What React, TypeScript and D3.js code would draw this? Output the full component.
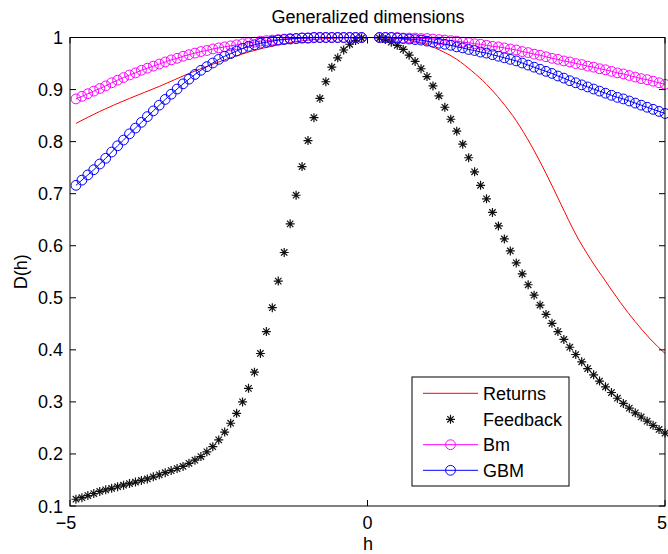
import React from 'react';
import * as d3 from 'd3';

// h grid of the marker series (gap around 0 as in the reference)
const H = [
  -4.9, -4.8, -4.7, -4.6, -4.5, -4.4, -4.3, -4.2, -4.1, -4.0,
  -3.9, -3.8, -3.7, -3.6, -3.5, -3.4, -3.3, -3.2, -3.1, -3.0,
  -2.9, -2.8, -2.7, -2.6, -2.5, -2.4, -2.3, -2.2, -2.1, -2.0,
  -1.9, -1.8, -1.7, -1.6, -1.5, -1.4, -1.3, -1.2, -1.1, -1.0,
  -0.9, -0.8, -0.7, -0.6, -0.5, -0.4, -0.3, -0.2, -0.1,
  0.2, 0.3, 0.4, 0.5, 0.6, 0.7, 0.8, 0.9, 1.0,
  1.1, 1.2, 1.3, 1.4, 1.5, 1.6, 1.7, 1.8, 1.9, 2.0,
  2.1, 2.2, 2.3, 2.4, 2.5, 2.6, 2.7, 2.8, 2.9, 3.0,
  3.1, 3.2, 3.3, 3.4, 3.5, 3.6, 3.7, 3.8, 3.9, 4.0,
  4.1, 4.2, 4.3, 4.4, 4.5, 4.6, 4.7, 4.8, 4.9, 5.0,
];

const FEEDBACK = [
  0.113, 0.116, 0.120, 0.124, 0.128, 0.131, 0.134, 0.137, 0.140, 0.143,
  0.146, 0.149, 0.152, 0.156, 0.160, 0.164, 0.168, 0.172, 0.176, 0.182,
  0.188, 0.195, 0.204, 0.214, 0.227, 0.242, 0.259, 0.278, 0.300, 0.326,
  0.357, 0.393, 0.435, 0.481, 0.532, 0.587, 0.642, 0.697, 0.752, 0.802,
  0.846, 0.883, 0.915, 0.943, 0.961, 0.976, 0.987, 0.994, 0.999,
  0.999, 0.996, 0.991, 0.985, 0.977, 0.966, 0.954, 0.940, 0.925,
  0.907, 0.888, 0.866, 0.843, 0.820, 0.795, 0.769, 0.742, 0.716, 0.690,
  0.664, 0.638, 0.613, 0.590, 0.567, 0.546, 0.525, 0.505, 0.486, 0.468,
  0.451, 0.435, 0.420, 0.405, 0.391, 0.377, 0.364, 0.352, 0.340, 0.329,
  0.318, 0.307, 0.297, 0.288, 0.279, 0.271, 0.263, 0.255, 0.247, 0.240,
];

const BM = [
  0.882, 0.887, 0.892, 0.897, 0.902, 0.907, 0.913, 0.918, 0.923, 0.928,
  0.932, 0.937, 0.941, 0.945, 0.949, 0.953, 0.957, 0.960, 0.964, 0.967,
  0.970, 0.973, 0.975, 0.978, 0.980, 0.982, 0.984, 0.986, 0.988, 0.990,
  0.991, 0.993, 0.994, 0.995, 0.996, 0.997, 0.998, 0.998, 0.999, 0.999,
  1, 1, 1, 1, 1, 1, 1, 1, 1,
  1, 1, 1, 1, 0.999, 0.999, 0.999, 0.998, 0.998,
  0.997, 0.996, 0.995, 0.994, 0.993, 0.991, 0.990, 0.988, 0.987, 0.985,
  0.983, 0.982, 0.980, 0.978, 0.976, 0.973, 0.971, 0.968, 0.966, 0.963,
  0.960, 0.958, 0.955, 0.953, 0.950, 0.948, 0.945, 0.943, 0.940, 0.938,
  0.935, 0.932, 0.930, 0.927, 0.924, 0.921, 0.919, 0.916, 0.913, 0.910,
];

const GBM = [
  0.716, 0.726, 0.736, 0.746, 0.757, 0.768, 0.780, 0.792, 0.803, 0.815,
  0.826, 0.837, 0.848, 0.859, 0.870, 0.881, 0.891, 0.901, 0.911, 0.920,
  0.929, 0.937, 0.944, 0.951, 0.958, 0.964, 0.969, 0.974, 0.979, 0.983,
  0.986, 0.989, 0.991, 0.993, 0.995, 0.996, 0.997, 0.998, 0.999, 0.999,
  1, 1, 1, 1, 1, 1, 1, 1, 1,
  1, 1, 1, 0.999, 0.998, 0.997, 0.996, 0.995, 0.993,
  0.991, 0.989, 0.987, 0.985, 0.982, 0.980, 0.977, 0.975, 0.972, 0.970,
  0.967, 0.964, 0.961, 0.958, 0.955, 0.951, 0.947, 0.943, 0.939, 0.935,
  0.931, 0.926, 0.922, 0.917, 0.913, 0.909, 0.905, 0.901, 0.897, 0.893,
  0.889, 0.885, 0.882, 0.878, 0.874, 0.870, 0.866, 0.862, 0.858, 0.854,
];

// Returns: smooth line
const RET_H = [-4.9, -4.5, -4, -3.5, -3, -2.5, -2, -1.5, -1, -0.5, 0, 0.5, 1, 1.25, 1.5, 1.75, 2, 2.25, 2.5, 2.75, 3, 3.25, 3.5, 3.75, 4, 4.25, 4.5, 4.75, 5];
const RETURNS = [0.835, 0.858, 0.883, 0.906, 0.931, 0.953, 0.972, 0.986, 0.995, 0.999, 1, 0.998, 0.986, 0.974, 0.958, 0.936, 0.910, 0.878, 0.840, 0.793, 0.739, 0.680, 0.622, 0.574, 0.532, 0.491, 0.454, 0.421, 0.393];

const X_TICKS = [-5, 0, 5];
const X_TICK_LABELS = ['\u22125', '0', '5'];
const Y_TICKS = [0.1, 0.2, 0.3, 0.4, 0.5, 0.6, 0.7, 0.8, 0.9, 1];
const Y_TICK_LABELS = ['0.1', '0.2', '0.3', '0.4', '0.5', '0.6', '0.7', '0.8', '0.9', '1'];

const LEGEND = ['Returns', 'Feedback', 'Bm', 'GBM'];

const FONT = 'Liberation Sans, Arial, Helvetica, sans-serif';
const STAR = 'M-4.5,0H4.5M0,-4.5V4.5M-3.2,-3.2L3.2,3.2M-3.2,3.2L3.2,-3.2';

export default function App() {
  const W = 668, HT = 554;
  const L = 70, R = 665, T = 37.5, B = 506;
  const x = d3.scaleLinear().domain([-5, 5]).range([L, R]);
  const y = d3.scaleLinear().domain([0.1, 1]).range([B, T]);
  const line = d3.line<[number, number]>().x(d => x(d[0])).y(d => y(d[1]));
  const smooth = d3.line<[number, number]>().x(d => x(d[0])).y(d => y(d[1])).curve(d3.curveMonotoneX);

  const retPts = RET_H.map((h, i) => [h, RETURNS[i]] as [number, number]);
  const fbPts = H.map((h, i) => [h, FEEDBACK[i]] as [number, number]);
  const bmPts = H.map((h, i) => [h, BM[i]] as [number, number]);
  const gbmPts = H.map((h, i) => [h, GBM[i]] as [number, number]);

  const tl = 6;
  const lg = { x: 412, y: 377, w: 157, h: 109 };
  const rows = [393.3, 419.3, 444.7, 470.3];
  const mr = 4.9;

  return (
    <svg width={W} height={HT} style={{ position: 'absolute', left: 0, top: 0, background: '#fff' }} fontFamily={FONT}>
      <rect x={0} y={0} width={W} height={HT} fill="#fff" />
      {/* series */}
      <path d={smooth(retPts) || ''} fill="none" stroke="#ff0000" strokeWidth={1} />
      {fbPts.map((p, i) => (
        <path key={'f' + i} d={STAR} transform={`translate(${x(p[0])},${y(p[1])})`} stroke="#111" strokeWidth={1.2} fill="none" />
      ))}
      <path d={line(bmPts) || ''} fill="none" stroke="#ff00ff" strokeWidth={1} />
      {bmPts.map((p, i) => (
        <circle key={'b' + i} cx={x(p[0])} cy={y(p[1])} r={mr} fill="none" stroke="#ff00ff" strokeWidth={1} />
      ))}
      <path d={line(gbmPts) || ''} fill="none" stroke="#0000ff" strokeWidth={1} />
      {gbmPts.map((p, i) => (
        <circle key={'g' + i} cx={x(p[0])} cy={y(p[1])} r={mr} fill="none" stroke="#0000ff" strokeWidth={1} />
      ))}

      {/* axes box */}
      <rect x={L} y={T} width={R - L} height={B - T} fill="none" stroke="#000" strokeWidth={1} />
      {X_TICKS.map((t, i) => (
        <g key={'xt' + i}>
          <line x1={x(t)} x2={x(t)} y1={B} y2={B - tl} stroke="#000" strokeWidth={1} />
          <line x1={x(t)} x2={x(t)} y1={T} y2={T + tl} stroke="#000" strokeWidth={1} />
          <text x={x(t) - (t < 0 ? 4 : t > 0 ? 3 : 0)} y={529} textAnchor="middle" fontSize={18} fill="#000">{X_TICK_LABELS[i]}</text>
        </g>
      ))}
      {Y_TICKS.map((t, i) => (
        <g key={'yt' + i}>
          <line x1={L} x2={L + tl} y1={y(t)} y2={y(t)} stroke="#000" strokeWidth={1} />
          <line x1={R} x2={R - tl} y1={y(t)} y2={y(t)} stroke="#000" strokeWidth={1} />
          <text x={63} y={y(t) + 6.5} textAnchor="end" fontSize={18} fill="#000">{Y_TICK_LABELS[i]}</text>
        </g>
      ))}

      {/* titles */}
      <text x={368} y={23} textAnchor="middle" fontSize={18} fill="#000">Generalized dimensions</text>
      <text x={368} y={550} textAnchor="middle" fontSize={18} fill="#000">h</text>
      <text transform={`translate(27,${(T + B) / 2}) rotate(-90)`} textAnchor="middle" fontSize={18} fill="#000">D(h)</text>

      {/* legend */}
      <rect x={lg.x} y={lg.y} width={lg.w} height={lg.h} fill="#fff" stroke="#000" strokeWidth={1} />
      <line x1={423} x2={478} y1={rows[0]} y2={rows[0]} stroke="#ff0000" strokeWidth={1} />
      <path d={STAR} transform={`translate(450.5,${rows[1]})`} stroke="#111" strokeWidth={1.2} fill="none" />
      <line x1={423} x2={478} y1={rows[2]} y2={rows[2]} stroke="#ff00ff" strokeWidth={1} />
      <circle cx={450.5} cy={rows[2]} r={mr} fill="none" stroke="#ff00ff" strokeWidth={1} />
      <line x1={423} x2={478} y1={rows[3]} y2={rows[3]} stroke="#0000ff" strokeWidth={1} />
      <circle cx={450.5} cy={rows[3]} r={mr} fill="none" stroke="#0000ff" strokeWidth={1} />
      {LEGEND.map((s, i) => (
        <text key={'l' + i} x={483} y={rows[i] + 6.3} fontSize={18} fill="#000">{s}</text>
      ))}
    </svg>
  );
}
